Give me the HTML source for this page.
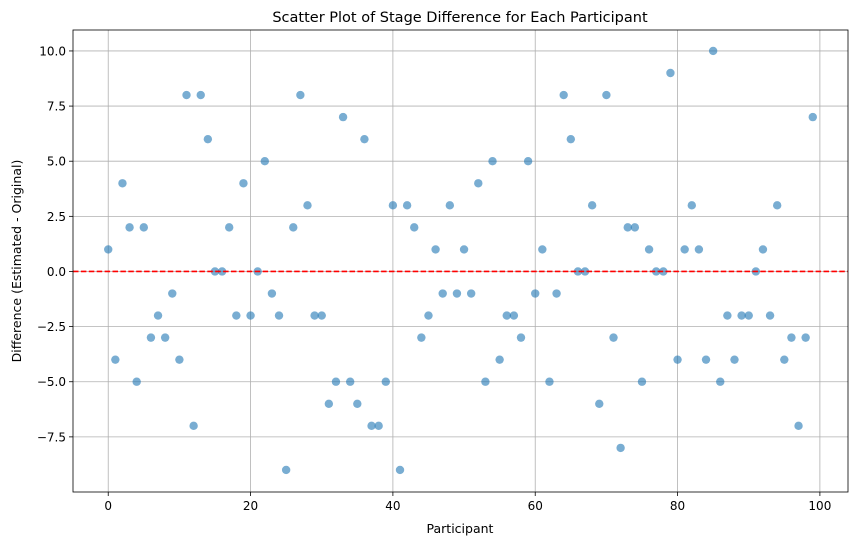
<!DOCTYPE html>
<html><head><meta charset="utf-8"><style>
body{margin:0;background:#fff;}
svg{display:block;font-family:"DejaVu Sans","Liberation Sans",sans-serif;}
</style></head><body>
<svg id="chart" width="858" height="545" viewBox="0 0 858 545" xmlns="http://www.w3.org/2000/svg">
<rect x="0" y="0" width="858" height="545" fill="#fff"/>
<g id="grid"></g>
<g id="marks"></g>
<g id="axes"></g>
<text x="460" y="22" text-anchor="middle" font-size="14.5">Scatter Plot of Stage Difference for Each Participant</text>
<text x="460" y="533" text-anchor="middle" font-size="12.5">Participant</text>
<text x="21" y="261" text-anchor="middle" font-size="12.5" transform="rotate(-90 21 261)">Difference (Estimated - Original)</text>
</svg>
<script>
const diffs = [1,-4,4,2,-5,2,-3,-2,-3,-1,-4,8,-7,8,6,0,0,2,-2,4,-2,0,5,-1,-2,-9,2,8,3,-2,-2,-6,-5,7,-5,-6,6,-7,-7,-5,3,-9,3,2,-3,-2,1,-1,3,-1,1,-1,4,-5,5,-4,-2,-2,-3,5,-1,1,-5,-1,8,6,0,0,3,-6,8,-3,-8,2,2,-5,1,0,0,9,-4,1,3,1,-4,10,-5,-2,-4,-2,-2,0,1,-2,3,-4,-3,-7,-3,7];
const xTicks = [0,20,40,60,80,100];
const yTicks = [-7.5,-5,-2.5,0,2.5,5,7.5,10];
const yTickLabels = ["\u22127.5","\u22125.0","\u22122.5","0.0","2.5","5.0","7.5","10.0"];

const L=73,R=848,T=30,B=492;
const xMin=-4.95,xMax=103.95,yMin=-10.0,yMax=10.95;
const sx=v=>L+(v-xMin)/(xMax-xMin)*(R-L);
const sy=v=>B-(v-yMin)/(yMax-yMin)*(B-T);
const NS="http://www.w3.org/2000/svg";
function mk(tag,attrs,parent,text){const e=document.createElementNS(NS,tag);for(const k in attrs)e.setAttribute(k,attrs[k]);if(text!==undefined)e.textContent=text;parent.appendChild(e);return e;}
const grid=document.getElementById('grid'),marks=document.getElementById('marks'),axes=document.getElementById('axes');
xTicks.forEach(t=>{
  const g=mk('line',{x1:sx(t),x2:sx(t),y1:T,y2:B,stroke:'#b0b0b0','stroke-width':0.8},grid);
  
  
  const tk=mk('line',{x1:sx(t),x2:sx(t),y1:B,y2:B+4,stroke:'#000','stroke-width':0.8},axes);
  
  
  const lb=mk('text',{x:sx(t),y:B+18,'text-anchor':'middle','font-size':12},axes,String(t));
  
  
});
yTicks.forEach((t,i)=>{
  const g=mk('line',{x1:L,x2:R,y1:sy(t),y2:sy(t),stroke:'#b0b0b0','stroke-width':0.8},grid);
  
  
  const tk=mk('line',{x1:L-4,x2:L,y1:sy(t),y2:sy(t),stroke:'#000','stroke-width':0.8},axes);
  
  
  const lb=mk('text',{x:L-7,y:sy(t)+4.5,'text-anchor':'end','font-size':12},axes,yTickLabels[i]);
  
  
});
diffs.forEach((v,i)=>{
  const c=mk('circle',{cx:sx(i),cy:sy(v),r:4.2,fill:'#1f77b4','fill-opacity':0.6},marks);
  
  
});
const zl=mk('line',{x1:L,x2:R,y1:sy(0),y2:sy(0),stroke:'#ff0000','stroke-width':1.6,'stroke-dasharray':'5.5,2.4'},axes);


const fr=mk('rect',{x:L,y:T,width:R-L,height:B-T,fill:'none',stroke:'#000','stroke-width':0.8},axes);


</script>
</body></html>
